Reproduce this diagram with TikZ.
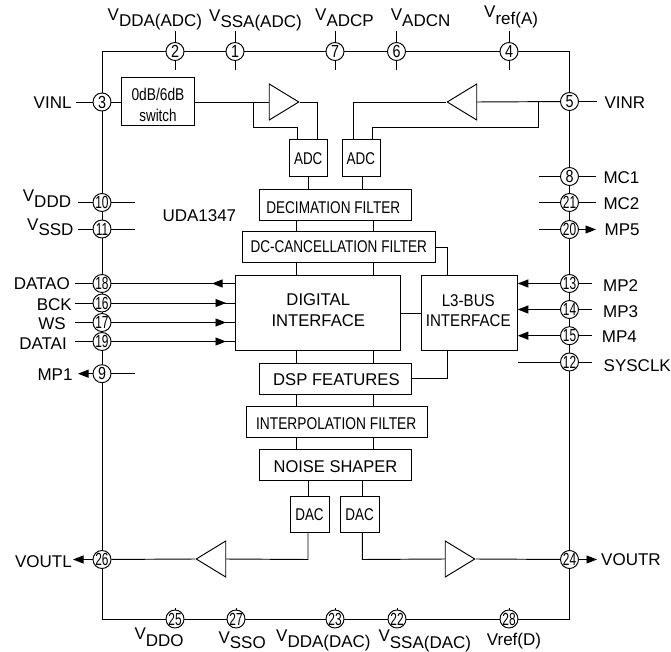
\documentclass[tikz,border=0pt]{standalone}
\usepackage{fontspec}
\usepackage{graphicx}
\setmainfont{Liberation Sans}
\usetikzlibrary{arrows.meta,backgrounds,shapes.geometric}
% zero-size text placed relative to the node centre: dx, dy (baseline), x-scale, text
\newcommand\bt[4]{\makebox[0pt][c]{\kern#1pt\kern#1pt\raisebox{-#2pt}[0pt][0pt]{\scalebox{#3}[1]{#4}}}}
\newcommand\Vs[2]{V\raisebox{-#1pt}{#2}}
\newcommand\pa[1]{\bt{0}{6.1}{.82}{#1}}
\newcommand\pb[1]{\bt{0}{6.1}{.68}{#1}}
\tikzset{
  wire/.style={draw=black,line width=.95pt},
  tick/.style={wire},
  pinc/.style={circle,draw=black,line width=.95pt,fill=white,minimum size=18,inner sep=0,font=\fontsize{17.5}{18}\selectfont},
  bx/.style={rectangle,draw=black,line width=.95pt,fill=white,inner sep=0,font=\fontsize{17}{18}\selectfont},
  bxl/.style={bx,font=\fontsize{17}{18}\selectfont},
  lbl/.style={inner sep=0,font=\fontsize{17}{18}\selectfont},
  amp/.style={isosceles triangle,isosceles triangle stretches,draw=black,line width=.95pt,fill=white,inner sep=0,minimum width=36,minimum height=29.5},
  arr/.style={wire,-{Triangle[length=10.5pt,width=8pt]}}
}
\begin{document}
\begin{tikzpicture}[x=1pt,y=-1pt]
\useasboundingbox (0,0) rectangle (671,652);
% frame corners
\coordinate (tl) at (102,51.5);
\coordinate (tr) at (569.5,51.5);
\coordinate (bl) at (102,619);
\coordinate (br) at (569.5,619);
% boxes
\node[bx,minimum width=73,minimum height=48.5] (sw) at (157.5,101.25) {\bt{.5}{-.75}{.81}{0dB/6dB}\bt{.5}{20.75}{.79}{switch}};
\node[bx,minimum width=37.5,minimum height=37] (adca) at (308.25,157.5) {\bt{0}{7}{.79}{ADC}};
\node[bx,minimum width=38,minimum height=37] (adcb) at (361.7,157.5) {\bt{-.8}{7}{.79}{ADC}};
\node[bx,minimum width=151.5,minimum height=30.5] (dec) at (335.25,204.75) {\bt{-2}{8.5}{.80}{DECIMATION FILTER}};
\node[bx,minimum width=193.5,minimum height=30.8] (dc) at (338.75,247.1) {\bt{0}{5.6}{.797}{DC-CANCELLATION FILTER}};
\node[bxl,minimum width=165,minimum height=75] (dig) at (317.5,313.2) {\bt{.75}{-8.2}{.98}{DIGITAL}\bt{.75}{13.5}{.98}{INTERFACE}};
\node[bxl,minimum width=95.6,minimum height=75] (l3) at (469.5,313.2) {\bt{-1.2}{-7.2}{.89}{L3-BUS}\bt{-1.2}{13.5}{.89}{INTERFACE}};
\node[bxl,minimum width=151.5,minimum height=31] (dsp) at (335.25,378.8) {\bt{1.2}{6.9}{.98}{DSP FEATURES}};
\node[bx,minimum width=181.4,minimum height=30.6] (intp) at (337,422) {\bt{-.8}{7.3}{.81}{INTERPOLATION FILTER}};
\node[bxl,minimum width=151.5,minimum height=31] (noi) at (335.25,465.2) {\bt{.25}{7.5}{.97}{NOISE SHAPER}};
\node[bx,minimum width=39.4,minimum height=36.4] (daca) at (310,514.5) {\bt{-.5}{5.5}{.79}{DAC}};
\node[bx,minimum width=39.4,minimum height=36.4] (dacb) at (360,514.5) {\bt{-.4}{5.5}{.79}{DAC}};
% amplifiers
\node[amp,anchor=apex] (ampa) at (300,102) {};
\node[amp,anchor=apex,shape border rotate=180] (ampb) at (446,102) {};
\node[amp,anchor=apex,shape border rotate=180] (ampc) at (195,559) {};
\node[amp,anchor=apex] (ampd) at (476,559) {};
% pins
\node[pinc] (p2) at (175,51.5) {\pa{2}};
\node[pinc] (p1) at (235,51.5) {\pa{1}};
\node[pinc] (p7) at (335,51.5) {\pa{7}};
\node[pinc] (p6) at (396.5,51.5) {\pa{6}};
\node[pinc] (p4) at (509,51.5) {\pa{4}};
\node[pinc] (p3) at (102,102) {\pa{3}};
\node[pinc] (p10) at (102,202.5) {\pb{10}};
\node[pinc] (p11) at (102,229) {\pb{11}};
\node[pinc] (p18) at (102,283.5) {\pb{18}};
\node[pinc] (p16) at (102,303) {\pb{16}};
\node[pinc] (p17) at (102,322.5) {\pb{17}};
\node[pinc] (p19) at (102,341.5) {\pb{19}};
\node[pinc] (p9) at (102,373.7) {\pa{9}};
\node[pinc] (p26) at (102,559.5) {\pb{26}};
\node[pinc] (p5) at (569.5,101.5) {\pa{5}};
\node[pinc] (p8) at (569.5,176.5) {\pa{8}};
\node[pinc] (p21) at (569.5,202.5) {\pb{21}};
\node[pinc] (p20) at (569.5,229.5) {\pb{20}};
\node[pinc] (p13) at (569.5,283.5) {\pb{13}};
\node[pinc] (p14) at (569.5,309.5) {\pb{14}};
\node[pinc] (p15) at (569.5,335.7) {\pb{15}};
\node[pinc] (p12) at (569.5,362) {\pb{12}};
\node[pinc] (p24) at (569.5,559.5) {\pb{24}};
\node[pinc] (p25) at (175,619) {\pb{25}};
\node[pinc] (p27) at (236,619) {\pb{27}};
\node[pinc] (p23) at (335,619) {\pb{23}};
\node[pinc] (p22) at (397,619) {\pb{22}};
\node[pinc] (p28) at (509,619) {\pb{28}};
% labels
\node[lbl,anchor=base west] (lvdda) at (107.5,21) {\Vs{5.7}{DDA(ADC)}};
\node[lbl,anchor=base west] (lvssa) at (209,21.5) {\Vs{6.5}{SSA(ADC)}};
\node[lbl,anchor=base west] (lvadcp) at (315,21) {\Vs{6}{ADCP}};
\node[lbl,anchor=base west] (lvadcn) at (390.7,20.7) {\Vs{6}{ADCN}};
\node[lbl,anchor=base west] (lvrefa) at (484,17.5) {\Vs{6.8}{ref(A)}};
\node[lbl,anchor=base east] (lvinl) at (71.7,108.7) {VINL};
\node[lbl,anchor=base west] (lvddd) at (22.7,201.7) {\Vs{6.3}{DDD}};
\node[lbl,anchor=base west] (lvssd) at (27,230) {\Vs{5.7}{SSD}};
\node[lbl,anchor=base west] (luda) at (162.3,222) {UDA1347};
\node[lbl,anchor=base east] (ldo) at (70,289) {DATAO};
\node[lbl,anchor=base east] (lbck) at (72,310) {BCK};
\node[lbl,anchor=base east] (lws) at (66,329) {WS};
\node[lbl,anchor=base east] (ldi) at (67,349.7) {DATAI};
\node[lbl,anchor=base east] (lmp1) at (72.7,380) {MP1};
\node[lbl,anchor=base east] (lvoutl) at (72,567.7) {VOUTL};
\node[lbl,anchor=base west] (lvinr) at (604.3,109) {VINR};
\node[lbl,anchor=base west] (lmc1) at (603.3,183.3) {MC1};
\node[lbl,anchor=base west] (lmc2) at (603.3,210) {MC2};
\node[lbl,anchor=base west] (lmp5) at (604.5,235.7) {MP5};
\node[lbl,anchor=base west] (lmp2) at (603,291.7) {MP2};
\node[lbl,anchor=base west] (lmp3) at (603,317.7) {MP3};
\node[lbl,anchor=base west] (lmp4) at (601.7,342.7) {MP4};
\node[lbl,anchor=base west] (lclk) at (603.5,371.7) {SYSCLK};
\node[lbl,anchor=base west] (lvoutr) at (601,565) {VOUTR};
\node[lbl,anchor=base west] (lvddo) at (134.3,639) {\Vs{7}{DDO}};
\node[lbl,anchor=base west] (lvsso) at (218.3,643.3) {\Vs{5}{SSO}};
\node[lbl,anchor=base west] (lvddad) at (276,641.3) {\Vs{6}{DDA(DAC)}};
\node[lbl,anchor=base west] (lvssad) at (378.3,641.7) {\Vs{6.3}{SSA(DAC)}};
\node[lbl,anchor=base west] (lvrefd) at (486.7,645.7) {Vref(D)};
% helper positions
\coordinate (xa) at (296.7,0);
\coordinate (xb) at (373.7,0);
\coordinate (xl3) at (447.7,0);
\coordinate (xc) at (308,0);
\coordinate (xd) at (362.3,0);
\coordinate (xe) at (297.5,0);
\coordinate (xf) at (317,0);
\coordinate (xg) at (353,0);
\coordinate (xh) at (372.5,0);
\coordinate (ystubt) at (0,31);
\coordinate (ystubb) at (0,70.5);
\coordinate (ytickb) at (0,608);
\coordinate (stubl) at (78,0);
\coordinate (stubin) at (135,0);
\coordinate (stubr) at (539,0);
\coordinate (stubo) at (596,0);
\coordinate (stuboo) at (592,0);
\begin{scope}[on background layer]
% frame
\draw[wire] (tl) -- (tr) -- (br) -- (bl) -- cycle;
% top stubs
\foreach \p in {p2,p1,p7,p6,p4}{\draw[tick] (\p |- ystubt) -- (\p |- ystubb);}
% bottom ticks
\foreach \p in {p25,p27,p23,p22,p28}{\draw[tick] (\p |- ytickb) -- (\p.center);}
% left input chain
\draw[wire] (76,102) -- (p3) -- (sw.west |- p3);
\draw[wire] (sw.east |- ampa.apex) -- (ampa.lower side);
\draw[wire] (253.5,102) -- (253.5,127) -- (297.5,127) -- (xe |- adca.north);
\draw[wire] (ampa.apex) -- (317,102) -- (xf |- adca.north);
% right input chain
\draw[wire] (p5) -- (ampb.lower side);
\draw[wire] (p5) -- (597,101.5);
\draw[wire] (538.7,101.5) -- (538.7,127) -- (372.5,127) -- (xh |- adcb.north);
\draw[wire] (ampb.apex) -- (353,102) -- (xg |- adcb.north);
% signal chain
\draw[wire] (xc |- adca.south) -- (xc |- dec.north);
\draw[wire] (xd |- adcb.south) -- (xd |- dec.north);
\foreach \x in {xa,xb}{
  \draw[wire] (\x |- dec.south) -- (\x |- dc.north);
  \draw[wire] (\x |- dc.south) -- (\x |- dig.north);
  \draw[wire] (\x |- dig.south) -- (\x |- dsp.north);
  \draw[wire] (\x |- dsp.south) -- (\x |- intp.north);
  \draw[wire] (\x |- intp.south) -- (\x |- noi.north);
}
\draw[wire] (xc |- noi.south) -- (xc |- daca.north);
\draw[wire] (xd |- noi.south) -- (xd |- dacb.north);
\draw[wire] (dig.east |- l3.west) -- (l3.west);
\draw[wire] (dc.east) -| (xl3 |- l3.north);
\draw[wire] (xl3 |- l3.south) |- (dsp.east);
% outputs
\draw[wire] (xc |- daca.south) -- (308,559.5) -- (ampc.lower side);
\draw[wire] (ampc.apex) -- (p26);
\draw[wire] (xd |- dacb.south) -- (362.3,559.5) -- (ampd.lower side);
\draw[wire] (ampd.apex) -- (p24);
\draw[arr] (p26) -- (73,559.5);
\draw[arr] (p24) -- (597,559.5);
% left pins
\draw[wire] (stubl |- p10) -- (stubin |- p10);
\draw[wire] (stubl |- p11) -- (stubin |- p11);
\draw[wire] (75,283.5) -- (dig.west |- p18);
\draw[arr] (dig.west |- p18) -- (212,283.5);
\draw[wire] (75,303) -- (dig.west |- p16);
\draw[arr] (p16) -- (226,303);
\draw[wire] (75,322.5) -- (dig.west |- p17);
\draw[arr] (p17) -- (226,322.5);
\draw[wire] (75,341.5) -- (dig.west |- p19);
\draw[arr] (p19) -- (226,341.5);
\draw[wire] (p9) -- (stubin |- p9);
\draw[arr] (p9) -- (78,373.7);
% right pins
\draw[wire] (stubr |- p8) -- (stubo |- p8);
\draw[wire] (stubr |- p21) -- (stubo |- p21);
\draw[wire] (stubr |- p20) -- (p20);
\draw[arr] (p20) -- (596,229.5);
\foreach \p in {p13,p14,p15}{
  \draw[wire] (\p) -- (stuboo |- \p);
  \draw[arr] (\p) -- (l3.east |- \p);
}
\draw[wire] (l3.east |- p12) -- (stuboo |- p12);
\end{scope}
\end{tikzpicture}
\end{document}
